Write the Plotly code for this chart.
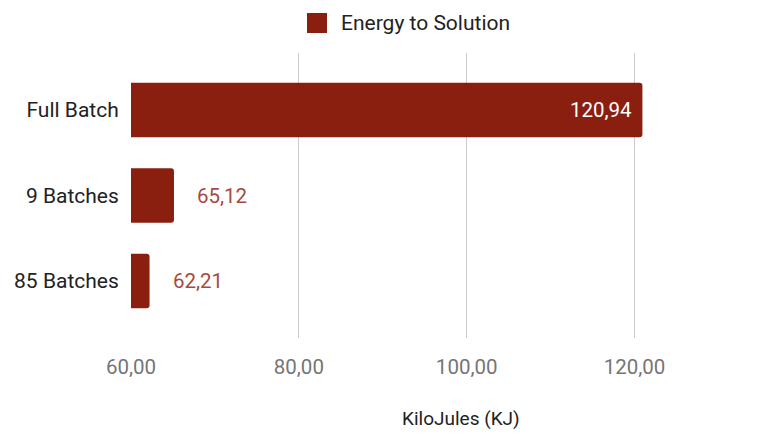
import plotly.graph_objects as go

categories = ["Full Batch", "9 Batches", "85 Batches"]
energy_kj = [120.94, 65.12, 62.21]
series_name = "Energy to Solution"
x_tick_values = [60, 80, 100, 120]
x_axis_title = "KiloJules (KJ)"

BAR_COLOR = "#8a1f0f"
OUT_LABEL_COLOR = "#a64a3e"
FONT = "Roboto"

W, H = 771, 433
ML, MR, MT, MB = 131, 0, 53, 95
PW, PH = W - ML - MR, H - MT - MB

x_min = 60
px_per_unit = 8.392
x_max = x_min + PW / px_per_unit


def fmt(v):
    return f"{v:.2f}".replace(".", ",")


fig = go.Figure()
fig.add_trace(go.Bar(
    x=energy_kj,
    y=categories,
    orientation="h",
    marker=dict(color=BAR_COLOR, line=dict(width=0)),
    width=0.64,
    name=series_name,
    showlegend=False,
    hoverinfo="skip",
))

annotations = []
for cat, v in zip(categories, energy_kj):
    inside = (v - x_min) * px_per_unit > 200
    annotations.append(dict(
        x=v, y=cat, xref="x", yref="y",
        text=fmt(v), showarrow=False,
        xanchor="right" if inside else "left",
        xshift=-8 if inside else 21,
        yanchor="middle",
        font=dict(family=FONT, size=20.5, color="#ffffff" if inside else OUT_LABEL_COLOR),
    ))

# axis title (centered like the original)
annotations.append(dict(
    x=(461 - ML) / PW, y=(MT + PH - 418) / PH, xref="paper", yref="paper",
    text=x_axis_title, showarrow=False, xanchor="center", yanchor="middle",
    font=dict(family=FONT, size=19, color="#222222"),
))

# manual legend
annotations.append(dict(
    x=(339 - ML) / PW, y=(MT + PH - 23) / PH, xref="paper", yref="paper",
    text=series_name, showarrow=False, xanchor="left", yanchor="middle",
    font=dict(family=FONT, size=21, color="#222222"),
))
shapes = [dict(
    type="rect", xref="paper", yref="paper",
    x0=(307 - ML) / PW, x1=(327 - ML) / PW,
    y0=(MT + PH - 33) / PH, y1=(MT + PH - 13) / PH,
    fillcolor=BAR_COLOR, line=dict(width=0),
)]

fig.update_layout(
    width=W, height=H,
    margin=dict(l=ML, r=MR, t=MT, b=MB, pad=0),
    paper_bgcolor="white", plot_bgcolor="white",
    separators=",.",
    barcornerradius=3,
    font=dict(family=FONT, size=20, color="#222222"),
    annotations=annotations,
    shapes=shapes,
    showlegend=False,
)
fig.update_xaxes(
    range=[x_min, x_max],
    tickvals=x_tick_values,
    tickformat=".2f",
    showgrid=True, gridcolor="#cccccc", gridwidth=1,
    zeroline=False, showline=False,
    ticks="outside", ticklen=10, tickcolor="rgba(0,0,0,0)",
    tickfont=dict(family=FONT, size=20.5, color="#757575"),
)
fig.update_yaxes(
    type="category",
    categoryorder="array", categoryarray=categories,
    range=[2.667, -0.667],
    showgrid=False, zeroline=False, showline=False,
    ticks="outside", ticklen=7, tickcolor="rgba(0,0,0,0)",
    tickfont=dict(family=FONT, size=21, color="#222222"),
)

fig.write_html("out.html")
